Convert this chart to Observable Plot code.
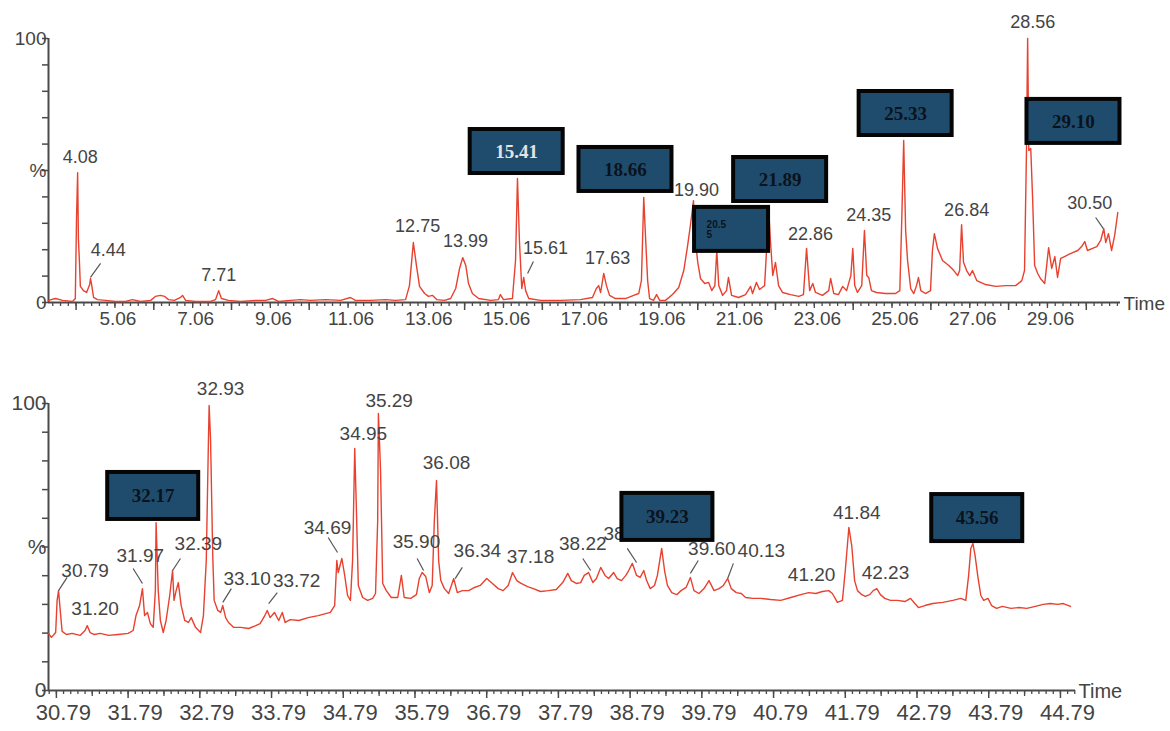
<!DOCTYPE html>
<html><head><meta charset="utf-8">
<script src="https://cdn.jsdelivr.net/npm/d3@7"></script>
<script src="https://cdn.jsdelivr.net/npm/@observablehq/plot@0.6"></script>
<style>body{margin:0;background:#fff} svg{display:block}</style>
</head><body><div id="chart"></div>
<script>
// ---------- DATA: upper chromatogram (time in min, relative abundance %) ----------
const topTrace = [[3.35,0.8],[3.53,1.5],[3.71,0.8],[3.97,0.4],[4.04,1.5],[4.07,31.1],[4.10,49.2],[4.12,24.2],[4.15,14.0],[4.17,6.1],[4.25,4.5],[4.33,3.8],[4.41,6.8],[4.43,9.1],[4.46,6.8],[4.51,1.9],[4.61,1.1],[4.82,0.8],[5.07,0.4],[5.33,0.4],[5.51,1.1],[5.72,0.4],[5.98,0.8],[6.10,2.3],[6.23,2.7],[6.34,2.3],[6.44,1.1],[6.59,0.8],[6.75,1.9],[6.80,2.7],[6.88,0.8],[7.13,0.4],[7.52,0.4],[7.65,1.1],[7.73,4.5],[7.80,1.5],[7.98,0.8],[8.29,0.4],[8.68,0.8],[8.94,0.8],[9.12,1.5],[9.27,0.4],[9.58,0.8],[9.84,1.1],[10.09,0.8],[10.48,1.1],[10.87,0.8],[11.12,1.9],[11.25,0.8],[11.64,0.8],[12.02,1.1],[12.28,0.8],[12.54,1.1],[12.64,6.4],[12.74,22.7],[12.82,14.0],[12.90,6.1],[13.03,3.4],[13.13,2.3],[13.23,2.7],[13.34,1.1],[13.54,0.8],[13.70,1.5],[13.83,5.3],[13.93,12.9],[14.01,17.0],[14.09,14.0],[14.16,7.2],[14.26,3.4],[14.42,1.5],[14.73,0.8],[14.93,1.1],[14.98,3.0],[15.06,1.1],[15.29,1.5],[15.37,15.9],[15.42,47.0],[15.47,23.5],[15.53,5.3],[15.58,9.5],[15.63,4.5],[15.71,1.5],[16.01,0.8],[16.53,0.8],[17.04,1.1],[17.35,1.9],[17.45,5.3],[17.51,6.4],[17.56,3.8],[17.64,11.0],[17.71,6.4],[17.79,2.7],[17.94,1.5],[18.20,1.5],[18.41,2.7],[18.54,3.4],[18.61,8.3],[18.67,39.8],[18.72,23.5],[18.77,8.3],[18.82,1.5],[18.92,0.8],[19.00,3.0],[19.08,0.8],[19.23,0.8],[19.41,3.0],[19.57,5.7],[19.70,12.1],[19.80,21.6],[19.88,30.3],[19.95,38.6],[20.00,23.5],[20.06,15.2],[20.13,9.1],[20.24,7.2],[20.34,7.6],[20.42,4.5],[20.50,6.4],[20.55,19.7],[20.60,6.4],[20.70,2.7],[20.80,4.5],[20.85,9.5],[20.93,2.7],[21.11,1.9],[21.29,3.0],[21.42,6.1],[21.47,3.4],[21.57,7.6],[21.65,4.9],[21.78,6.4],[21.83,19.7],[21.88,36.7],[21.93,23.5],[21.99,10.2],[22.06,15.2],[22.14,6.4],[22.24,3.8],[22.45,3.0],[22.66,2.3],[22.78,3.0],[22.86,20.5],[22.94,4.5],[23.02,7.2],[23.09,3.8],[23.27,2.7],[23.43,4.5],[23.48,9.1],[23.56,3.4],[23.68,3.0],[23.79,6.1],[23.89,4.5],[24.00,10.2],[24.05,20.5],[24.10,6.4],[24.17,3.8],[24.28,6.4],[24.35,27.3],[24.41,10.2],[24.46,9.5],[24.53,4.5],[24.66,3.8],[24.89,3.4],[25.15,3.4],[25.26,4.5],[25.31,31.1],[25.36,61.4],[25.41,27.3],[25.46,15.9],[25.54,5.3],[25.62,3.4],[25.69,6.4],[25.74,9.5],[25.80,4.5],[25.92,3.4],[26.05,4.5],[26.10,19.7],[26.15,26.1],[26.23,20.5],[26.36,15.9],[26.52,14.0],[26.65,12.1],[26.75,10.2],[26.80,12.1],[26.85,29.5],[26.90,15.2],[26.98,12.1],[27.06,10.2],[27.13,12.1],[27.24,8.3],[27.47,6.8],[27.73,6.1],[27.98,6.4],[28.24,6.4],[28.40,8.3],[28.47,12.1],[28.52,57.6],[28.55,100],[28.58,57.6],[28.63,58.3],[28.68,38.6],[28.73,14.0],[28.81,11.0],[28.88,9.1],[28.99,7.2],[29.09,20.8],[29.17,12.9],[29.25,17.4],[29.32,9.5],[29.40,16.7],[29.50,17.4],[29.61,18.2],[29.71,18.9],[29.84,19.7],[29.94,21.2],[30.02,23.1],[30.09,19.7],[30.22,20.5],[30.33,21.2],[30.43,23.5],[30.51,28.0],[30.56,22.7],[30.63,26.1],[30.71,19.7],[30.79,25.4],[30.87,34.1]];

const topLabels = [["4.08",4.17,54.9],["4.44",4.89,19.7],["7.71",7.73,10.2],["12.75",12.85,28.8],["13.99",14.08,23.1],["15.61",16.14,20.5],["17.63",17.74,16.7],["19.90",20.03,42.4],["22.86",22.96,25.8],["24.35",24.46,33.0],["26.84",26.98,34.8],["28.56",28.68,106],["30.50",30.15,37.5]];
const topLeaders = [[4.43,9.5,4.69,14.8],[15.68,11.0,15.83,15.5],[30.30,32.2,30.50,28.0]];
// boxed labels: text, box centre time, box bottom level
const topBoxes = [["15.41",15.40,48.1],["18.66",18.20,41.3],["20.5\n5",20.93,18.6],["21.89",22.18,37.5],["25.33",25.41,62.5],["29.10",29.73,59.5]];
const topTickLabels = [5.06,7.06,9.06,11.06,13.06,15.06,17.06,19.06,21.06,23.06,25.06,27.06,29.06];
const topDomain = [3.35, 30.94];

// ---------- DATA: lower chromatogram ----------
const bottomTrace = [[30.68,19.9],[30.72,18.5],[30.78,20.2],[30.80,31.4],[30.82,34.8],[30.85,26.1],[30.87,20.6],[30.93,19.5],[31.01,19.9],[31.12,19.2],[31.19,20.9],[31.22,22.6],[31.26,20.2],[31.32,19.5],[31.40,19.9],[31.52,19.2],[31.65,19.5],[31.79,19.9],[31.86,20.9],[31.90,26.1],[31.95,29.6],[31.99,35.5],[32.02,26.1],[32.06,27.2],[32.10,23.3],[32.14,22.0],[32.17,34.8],[32.18,58.5],[32.21,34.8],[32.24,24.4],[32.28,20.2],[32.32,24.4],[32.37,33.1],[32.41,41.8],[32.43,31.4],[32.46,34.8],[32.49,37.6],[32.53,29.6],[32.58,24.4],[32.63,23.7],[32.67,25.4],[32.73,22.0],[32.80,20.2],[32.84,26.1],[32.88,45.3],[32.91,87.1],[32.92,99.3],[32.94,87.1],[32.97,47.0],[32.99,31.4],[33.04,27.9],[33.08,27.2],[33.11,29.6],[33.15,25.4],[33.19,23.7],[33.26,22.0],[33.36,22.0],[33.47,21.6],[33.57,22.6],[33.63,23.3],[33.69,25.8],[33.73,27.9],[33.77,25.4],[33.83,27.2],[33.89,24.4],[33.94,27.2],[33.98,23.7],[34.05,24.7],[34.17,24.4],[34.30,25.4],[34.44,26.1],[34.61,27.2],[34.67,29.6],[34.70,45.3],[34.72,41.1],[34.77,46.0],[34.81,40.1],[34.85,33.1],[34.89,31.4],[34.92,45.3],[34.95,84.3],[34.97,66.2],[35.00,36.6],[35.06,32.4],[35.13,31.4],[35.20,32.1],[35.24,33.8],[35.27,59.2],[35.28,96.5],[35.31,76.7],[35.34,37.3],[35.39,34.8],[35.46,32.4],[35.55,32.4],[35.60,40.1],[35.64,32.4],[35.73,32.1],[35.81,33.4],[35.85,39.0],[35.89,41.1],[35.94,39.7],[35.99,34.1],[36.03,36.6],[36.06,59.2],[36.09,73.2],[36.12,45.3],[36.15,38.3],[36.20,35.5],[36.26,33.8],[36.33,39.0],[36.38,34.1],[36.45,34.8],[36.54,34.8],[36.62,35.9],[36.70,36.6],[36.79,39.0],[36.87,37.3],[36.95,35.5],[37.02,34.8],[37.09,36.6],[37.15,41.1],[37.21,38.3],[37.27,37.3],[37.36,36.2],[37.44,35.5],[37.54,34.5],[37.65,34.8],[37.76,35.2],[37.85,37.6],[37.92,40.8],[37.97,38.3],[38.04,37.3],[38.10,37.6],[38.15,40.1],[38.21,41.1],[38.27,37.6],[38.32,39.0],[38.38,42.9],[38.44,40.1],[38.49,39.0],[38.56,41.1],[38.61,39.0],[38.67,38.3],[38.73,40.1],[38.77,41.8],[38.82,44.3],[38.88,40.1],[38.93,39.4],[38.98,41.8],[39.02,38.3],[39.07,35.5],[39.13,36.6],[39.17,40.1],[39.23,49.5],[39.27,41.8],[39.31,36.6],[39.37,34.1],[39.44,33.4],[39.50,34.8],[39.57,35.9],[39.63,39.4],[39.68,34.8],[39.75,33.8],[39.82,35.5],[39.89,38.3],[39.96,34.8],[40.03,35.5],[40.09,36.6],[40.15,39.0],[40.20,35.5],[40.27,34.1],[40.34,33.8],[40.40,32.4],[40.50,32.1],[40.61,32.1],[40.75,31.7],[40.89,31.4],[41.03,32.4],[41.17,33.4],[41.28,34.1],[41.38,33.8],[41.47,34.5],[41.56,34.8],[41.61,33.8],[41.68,30.7],[41.75,31.4],[41.79,41.8],[41.84,56.8],[41.88,50.5],[41.92,38.3],[41.96,34.8],[42.02,33.4],[42.07,32.8],[42.13,33.4],[42.18,34.8],[42.23,35.5],[42.28,33.4],[42.34,32.1],[42.42,31.4],[42.52,31.4],[42.62,31.0],[42.70,32.1],[42.76,30.3],[42.81,28.9],[42.90,29.6],[43.01,30.3],[43.15,30.7],[43.29,31.4],[43.40,32.1],[43.47,31.4],[43.51,40.1],[43.54,49.5],[43.57,51.2],[43.60,47.0],[43.64,39.4],[43.68,33.1],[43.72,31.4],[43.78,32.1],[43.83,29.6],[43.90,28.6],[43.98,29.3],[44.10,28.6],[44.21,28.9],[44.32,28.6],[44.44,29.3],[44.55,30.0],[44.65,30.3],[44.75,30.0],[44.83,30.3],[44.93,29.3]];

const bottomLabels = [["30.79",31.19,41.8],["31.20",31.33,28.6],["31.97",31.96,47.0],["32.39",32.77,51.2],["32.93",33.08,105.2],["33.10",33.45,39.0],["33.72",34.14,38.3],["34.69",34.57,56.8],["34.95",35.07,89.5],["35.29",35.43,101],["35.90",35.81,51.9],["36.08",36.23,79.4],["36.34",36.66,48.8],["37.18",37.40,46.7],["38.22",38.13,51.2],["38.63",38.75,54.7],["39.60",39.93,49.5],["40.13",40.62,48.8],["41.20",41.32,40.4],["41.84",41.95,62.0],["42.23",42.35,41.1]];
const bottomLeaders = [[30.82,34.8,30.94,39.4],[31.86,42.5,31.99,37.3],[32.52,46.0,32.41,41.8],[33.23,35.5,33.11,30.7],[33.87,34.1,33.75,30.3],[34.58,53.3,34.71,48.1],[35.82,46.0,35.91,41.8],[36.45,42.9,36.35,39.0],[38.13,46.0,38.24,41.8],[38.75,49.5,38.88,44.6],[39.74,45.3,39.63,40.8],[40.23,44.3,40.15,39.0]];
const bottomBoxes = [["32.17",32.14,58.9],["39.23",39.31,51.6],["43.56",43.63,51.2]];
const bottomTickLabels = [30.79,31.79,32.79,33.79,34.79,35.79,36.79,37.79,38.79,39.79,40.79,41.79,42.79,43.79,44.79];
const bottomDomain = [30.68, 45.00];

// ---------- STYLE ----------
const RED = "#e8412f", AXIS = "#4a4a4a", TXT = "#444", BOXFILL = "#1f4c6d";
const FONT = "Liberation Sans, Arial, sans-serif";

function panel(o) {
  const ppm = (o.width - o.ml - o.mr) / (o.domain[1] - o.domain[0]);
  const ppp = (o.height - o.mt - o.mb) / 100;
  const trace = o.trace.map(([t, v]) => ({t, v}));
  const labels = o.labels.map(([label, t, v]) => ({label, t, v}));
  const leaders = o.leaders.map(([t1, v1, t2, v2]) => ({t1, v1, t2, v2}));
  const boxes = o.boxes.map(([label, t, v]) => {
    const small = label.includes("\n");
    const w = small ? o.smallBoxW : o.boxW, h = o.boxH;
    return {label, t, v, small,
      x1: t - (w / 2 - 2) / ppm, x2: t + (w / 2 - 2) / ppm,
      y1: v + 2 / ppp, y2: v + (h - 2) / ppp,
      tx: small ? t - (w / 2 - 14) / ppm : t, ty: v + h / 2 / ppp,
      color: label === "15.41" ? "#e4e4e4" : "#0a131c"};
  });
  const minor = d3.range(o.minorStart, o.domain[1], o.minorStep);
  const mid = d3.range(o.midStart, o.domain[1], o.midStep);
  const major = d3.range(o.majorStart, o.domain[1], o.majorStep);
  const yFmt = d => d === 100 ? "100" : d === 50 ? "%" : d === 0 ? "0" : "";
  return Plot.plot({
    width: o.width, height: o.height,
    marginLeft: o.ml, marginRight: o.mr, marginTop: o.mt, marginBottom: o.mb,
    x: {domain: o.domain, label: null},
    y: {domain: [0, 100], label: null},
    color: {type: "identity"},
    style: {fontFamily: FONT, background: "white", overflow: "visible"},
    marks: [
      Plot.axisY({ticks: d3.range(0, 101, 10), tickSize: 6, tickFormat: () => "", stroke: AXIS, strokeWidth: 1.5, label: null, anchor: "left"}),
      Plot.axisY({ticks: [0, 50, 100], tickSize: 0, tickPadding: 2, tickFormat: yFmt, fontSize: o.yFont, fill: TXT, label: null, anchor: "left"}),
      Plot.axisX({ticks: minor, tickSize: 4, tickFormat: () => "", stroke: AXIS, strokeWidth: 1.3, label: null, anchor: "bottom"}),
      Plot.axisX({ticks: mid, tickSize: 6, tickFormat: () => "", stroke: AXIS, strokeWidth: 1.3, label: null, anchor: "bottom"}),
      Plot.axisX({ticks: major, tickSize: 8, tickFormat: () => "", stroke: AXIS, strokeWidth: 1.5, label: null, anchor: "bottom"}),
      Plot.axisX({ticks: o.tickLabels, tickSize: 0, tickPadding: o.tickPad, tickFormat: d3.format(".2f"), fontSize: o.tickFont, fill: TXT, dx: o.tickDx, label: null, anchor: "bottom"}),
      Plot.ruleY([0], {stroke: AXIS, strokeWidth: 2}),
      Plot.ruleX([o.domain[0]], {stroke: AXIS, strokeWidth: 2}),
      Plot.line(trace, {x: "t", y: "v", stroke: RED, strokeWidth: 1.4, strokeLinejoin: "round"}),
      Plot.link(leaders, {x1: "t1", y1: "v1", x2: "t2", y2: "v2", stroke: "#555", strokeWidth: 1.2}),
      Plot.text(labels, {x: "t", y: "v", text: "label", fontSize: o.labelFont, fill: TXT}),
      Plot.rect(boxes, {x1: "x1", x2: "x2", y1: "y1", y2: "y2", fill: BOXFILL, stroke: "#050505", strokeWidth: 4}),
      Plot.text(boxes.filter(d => !d.small), {x: "tx", y: "ty", text: "label", fontSize: o.boxFont, fontWeight: "bold", fontFamily: "Liberation Serif, Times New Roman, serif", fill: "color"}),
      Plot.text(boxes.filter(d => d.small), {x: "tx", y: "ty", text: "label", fontSize: 10, fontWeight: "bold", textAnchor: "start", lineHeight: 1.0, fill: "#0a131c"}),
      Plot.text(["Time"], {x: o.domain[1], y: 0, text: d => d, textAnchor: "start", dx: 3, dy: 1, fontSize: o.timeFont, fill: TXT})
    ]
  });
}

const topChart = panel({
  width: 1170, height: 340, ml: 48, mr: 50, mt: 38, mb: 38,
  domain: topDomain, trace: topTrace, labels: topLabels, leaders: topLeaders, boxes: topBoxes,
  boxW: 97, smallBoxW: 78, boxH: 48, boxFont: 19,
  tickLabels: topTickLabels, tickPad: 9, tickFont: 19, tickDx: 3,
  minorStart: 3.46, minorStep: 0.2, midStart: 5.06, midStep: 2, majorStart: 4.06, majorStep: 2,
  labelFont: 18, yFont: 19, timeFont: 19
});
const bottomChart = panel({
  width: 1170, height: 391, ml: 48, mr: 95, mt: 63, mb: 41,
  domain: bottomDomain, trace: bottomTrace, labels: bottomLabels, leaders: bottomLeaders, boxes: bottomBoxes,
  boxW: 95, smallBoxW: 78, boxH: 51, boxFont: 19,
  tickLabels: bottomTickLabels, tickPad: 14, tickFont: 22, tickDx: 7,
  minorStart: 30.69, minorStep: 0.1, midStart: 31.29, midStep: 1, majorStart: 30.79, majorStep: 1,
  labelFont: 19, yFont: 21, timeFont: 20
});
document.getElementById("chart").append(topChart, bottomChart);
</script>
</body></html>
